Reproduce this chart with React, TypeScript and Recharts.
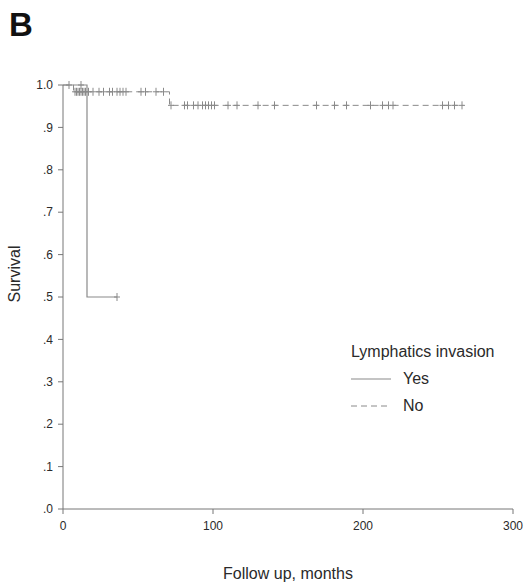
import { ComposedChart, Line, Scatter, XAxis, YAxis } from "recharts";

// Kaplan-Meier steps: [month, survival]
const yesSteps = [
	{ t: 0, s: 1 },
	{ t: 16, s: 0.5 },
	{ t: 36, s: 0.5 },
];
const noSteps = [
	{ t: 0, s: 1 },
	{ t: 7, s: 0.984 },
	{ t: 71, s: 0.952 },
	{ t: 267, s: 0.952 },
];

// censored observations
const yesCensored = [
	{ t: 4, s: 1 },
	{ t: 12, s: 1 },
	{ t: 36, s: 0.5 },
];
const noLevelEarly = 0.984;
const noCensoredEarly = [8, 9, 10, 11, 12, 13, 14, 15, 17, 20, 24, 27, 31, 33, 36, 38, 40, 42, 52, 55, 62, 67];
const noLevelLate = 0.952;
const noCensoredLate = [72, 81, 83, 87, 90, 93, 95, 97, 99, 101, 110, 116, 130, 141, 169, 181, 189, 205, 213, 217, 220, 253, 257, 261, 266];

const xTicks = [0, 100, 200, 300];
const yTicks = [0, 0.1, 0.2, 0.3, 0.4, 0.5, 0.6, 0.7, 0.8, 0.9, 1.0];

const FONT = "Arial, 'Liberation Sans', sans-serif";
const LINE = "#8a8a8a";
const AXIS = "#777";
const TEXT = "#2a2a2a";

const noCensored = [
	...noCensoredEarly.map((t) => ({ t, s: noLevelEarly })),
	...noCensoredLate.map((t) => ({ t, s: noLevelLate })),
];

function fmtY(v: number) {
	if (v >= 1) return "1.0";
	return "." + Math.round(v * 10);
}

function Plus(props: any) {
	const { cx, cy } = props;
	if (cx == null || cy == null) return null;
	return (
		<g stroke={LINE} strokeWidth={1}>
			<line x1={cx} y1={cy - 4} x2={cx} y2={cy + 4} />
			<line x1={cx - 3} y1={cy} x2={cx + 3} y2={cy} />
		</g>
	);
}

export default function App() {
	return (
		<div style={{ position: "absolute", left: 0, top: 0, width: 525, height: 584, background: "#fff", fontFamily: FONT, color: TEXT }}>
			<ComposedChart width={525} height={584} margin={{ top: 85, right: 12, bottom: 0, left: 0 }}>
				<XAxis
					type="number"
					dataKey="t"
					domain={[0, 300]}
					ticks={xTicks}
					interval={0}
					height={75}
					tickSize={5}
					tickMargin={7}
					stroke={AXIS}
					tick={{ fill: TEXT, fontSize: 12, fontFamily: FONT }}
				/>
				<YAxis
					type="number"
					dataKey="s"
					domain={[0, 1]}
					ticks={yTicks}
					interval={0}
					width={63}
					tickSize={5}
					tickMargin={5}
					tickFormatter={fmtY}
					stroke={AXIS}
					tick={{ fill: TEXT, fontSize: 12, fontFamily: FONT }}
				/>
				<Line data={noSteps} dataKey="s" type="stepAfter" stroke={LINE} strokeWidth={1} strokeDasharray="6 4" dot={false} isAnimationActive={false} />
				<Line data={yesSteps} dataKey="s" type="stepAfter" stroke={LINE} strokeWidth={1.2} dot={false} isAnimationActive={false} />
				<Scatter data={noCensored} dataKey="s" shape={<Plus />} isAnimationActive={false} />
				<Scatter data={yesCensored} dataKey="s" shape={<Plus />} isAnimationActive={false} />
			</ComposedChart>

			<div style={{ position: "absolute", left: 9, top: 6, fontSize: 33, fontWeight: 700, color: "#111" }}>B</div>

			<div
				style={{
					position: "absolute",
					left: 15,
					top: 274,
					fontSize: 16,
					whiteSpace: "nowrap",
					transform: "translate(-50%, -50%) rotate(-90deg)",
				}}
			>
				Survival
			</div>

			<div style={{ position: "absolute", left: 288, top: 574, fontSize: 16, whiteSpace: "nowrap", transform: "translate(-50%, -50%)" }}>
				Follow up, months
			</div>

			<div style={{ position: "absolute", left: 351, top: 343, fontSize: 16, lineHeight: "18px" }}>
				<div style={{ whiteSpace: "nowrap" }}>Lymphatics invasion</div>
				<div style={{ display: "flex", alignItems: "center", marginTop: 9 }}>
					<svg width={40} height={18}>
						<line x1={0} y1={9} x2={40} y2={9} stroke={LINE} strokeWidth={1.2} />
					</svg>
					<span style={{ marginLeft: 12 }}>Yes</span>
				</div>
				<div style={{ display: "flex", alignItems: "center", marginTop: 9 }}>
					<svg width={40} height={18}>
						<line x1={0} y1={9} x2={40} y2={9} stroke={LINE} strokeWidth={1} strokeDasharray="6 4" />
					</svg>
					<span style={{ marginLeft: 12 }}>No</span>
				</div>
			</div>
		</div>
	);
}
